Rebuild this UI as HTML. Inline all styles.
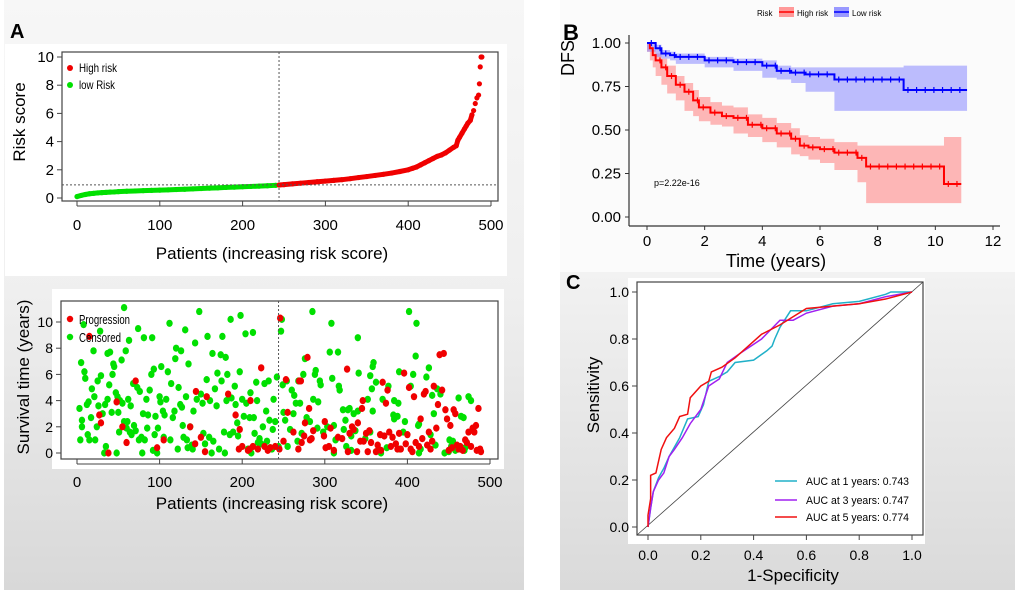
<!DOCTYPE html>
<html><head><meta charset="utf-8">
<style>
html,body{margin:0;padding:0;background:#fff;}
body{width:1020px;height:596px;overflow:hidden;font-family:"Liberation Sans",Arial,sans-serif;}
svg text{font-family:"Liberation Sans",Arial,sans-serif;}
</style></head>
<body>
<svg id="fig" width="1020" height="596" viewBox="0 0 1020 596" xmlns="http://www.w3.org/2000/svg">
<defs>
<linearGradient id="gA" x1="0" y1="0" x2="0" y2="1"><stop offset="0" stop-color="#f7f7f7"/><stop offset="0.5" stop-color="#efefef"/><stop offset="1" stop-color="#d8d8d8"/></linearGradient>
<linearGradient id="gC" x1="0" y1="0" x2="0" y2="1"><stop offset="0" stop-color="#f2f2f2"/><stop offset="1" stop-color="#dadada"/></linearGradient>
</defs>
<rect x="4" y="0" width="520" height="590" fill="url(#gA)"/>
<rect x="560" y="270" width="455" height="320" fill="url(#gC)"/>
<rect x="560" y="0" width="455" height="272" fill="#fbfbfb"/>
<rect x="5" y="44" width="502" height="232" fill="#fff"/>
<rect x="52" y="289" width="452" height="180" fill="#fff"/>
<rect x="628" y="278" width="297" height="266" fill="#fff"/>

<text x="10" y="38" font-size="20" font-weight="bold">A</text>
<text x="563" y="40" font-size="22" font-weight="bold">B</text>
<text x="566" y="289" font-size="20" font-weight="bold">C</text>
<g id="g1"></g><g id="g2"></g><g id="g3"></g><g id="g4"></g>
</svg>
<script>
// ---- Panel A top: risk score ----
const riskPatients=[0,5,10,15,20,25,30,35,40,45,50,60,70,80,90,100,110,120,130,140,150,160,170,180,190,200,210,220,230,240,244,250,260,270,280,290,300,310,320,330,340,350,360,370,380,390,400,405,410,415,420,425,430,435,440,445,450,455,458,460,462,465,468,470,472,475,477,479,481,483,485,486,487,488,489];
const riskScores=[0.1,0.18,0.25,0.3,0.33,0.36,0.38,0.4,0.42,0.43,0.45,0.48,0.5,0.52,0.54,0.56,0.58,0.6,0.62,0.65,0.67,0.7,0.72,0.75,0.77,0.8,0.82,0.84,0.87,0.9,0.92,0.95,1.0,1.05,1.1,1.15,1.2,1.25,1.3,1.37,1.45,1.52,1.6,1.68,1.77,1.88,2.0,2.1,2.2,2.35,2.5,2.65,2.8,2.95,3.05,3.2,3.4,3.6,3.7,4.1,4.3,4.6,4.9,5.1,5.3,5.5,5.9,6.2,6.7,7.1,7.3,8.1,9.3,10,10];
const riskXTicks=[0,100,200,300,400,500];
const riskYTicks=[0,2,4,6,8,10];
const riskCutoff=244, riskCutScore=0.93;
// ---- Panel A bottom: survival scatter ----
const censoredPts=[[3,3.4],[4,1],[5,6.9],[6,2],[6,2.5],[8,9.8],[9,6.2],[10,5.7],[12,3.7],[13,1.4],[14,3.9],[15,1],[17,2.7],[18,4.9],[20,7.8],[21,4.3],[22,1],[24,2],[25,5.5],[26,3.6],[28,9.3],[29,5.9],[31,3],[33,0],[34,3.7],[35,0.5],[37,7.6],[37,4.1],[39,5.2],[40,7.7],[42,3.1],[43,6],[44,6.8],[45,6.6],[47,4.6],[48,0],[49,4.3],[50,3.1],[51,1.6],[52,4],[54,7.1],[55,3.8],[57,2.4],[57,11.1],[59,7.8],[60,1.9],[61,2.4],[62,4.1],[63,8.6],[64,1.6],[65,3.6],[66,1.4],[68,5.3],[69,2.1],[71,1.7],[73,5],[74,9.5],[75,1],[76,4.7],[78,1.2],[79,0],[80,3],[81,8.8],[82,1],[84,4.1],[85,1.9],[86,2.9],[88,4.8],[90,6],[91,8.8],[92,0.2],[93,6.4],[94,1.4],[95,2.8],[97,0],[98,1.9],[100,4.3],[101,3.9],[102,6.6],[104,3.2],[105,1.2],[106,2.9],[108,4.1],[110,6.2],[112,9.9],[113,1],[114,5.3],[116,2.7],[118,3.2],[119,7.2],[120,8],[122,0.3],[123,5],[125,3.7],[126,7.8],[127,3.5],[128,2.1],[129,1.2],[131,9.4],[132,4.3],[133,1],[134,0.4],[135,6.8],[137,2],[139,0.6],[140,0.3],[141,3.2],[143,8.4],[145,4.1],[148,10.8],[150,4.5],[152,3.8],[153,1.5],[155,0.7],[157,5.6],[158,8.9],[160,1.2],[161,4],[163,0],[164,7.6],[165,0.9],[167,4.9],[169,3.6],[170,6.1],[172,0.3],[174,7.5],[175,5.5],[176,8.9],[178,1.6],[179,0],[180,7.3],[181,4],[182,6],[185,1.4],[186,10.2],[187,4.2],[189,1.6],[191,5.1],[192,3.7],[194,2.3],[195,1.3],[197,6.2],[198,10.5],[200,4.1],[202,2.8],[204,9.1],[205,3.8],[207,0.3],[209,2.7],[210,4.6],[211,0],[213,9.2],[214,2.7],[215,1.5],[217,5.4],[218,4],[219,0.8],[221,1.1],[223,0.7],[225,2],[227,5.3],[229,3.2],[230,0.9],[232,5.5],[233,2.5],[234,0.4],[236,0.3],[237,1.8],[238,4.1],[240,2.4],[242,5.8],[244,0.5],[248,10.2],[247,9.3],[249,5.2],[250,3.1],[252,2.5],[254,5.5],[255,0.5],[258,1.8],[260,4.8],[262,3],[263,4.4],[265,3.8],[267,0.9],[268,5.5],[270,3.8],[272,1.5],[274,6],[276,7.2],[278,2.7],[285,10.8],[282,2.4],[288,6],[286,4.1],[289,6.3],[291,1.9],[295,5.2],[292,3.9],[294,5.5],[311,0],[298,1.6],[308,9.9],[309,5.7],[303,2],[306,7.7],[313,1],[317,5.1],[311,2.1],[318,4.8],[322,3.3],[316,7.7],[325,2.5],[328,3.3],[326,0.5],[323,1.8],[340,8.8],[341,6.1],[335,3],[330,3.4],[332,1.3],[332,0.2],[337,1.7],[355,5.9],[340,3.2],[358,6.6],[359,6.9],[357,4.9],[362,5.4],[349,1.1],[365,0.3],[352,4.1],[355,1.6],[358,3.2],[368,0],[377,5.1],[370,4.1],[384,2.6],[388,2.8],[375,0.4],[383,2.9],[384,4],[389,3.8],[391,0.3],[390,6.2],[397,2.4],[395,1.6],[402,10.8],[404,5.1],[407,6],[411,9.9],[410,7.4],[413,2.1],[414,0],[414,2.2],[416,0.3],[423,5.8],[426,6.5],[428,1.4],[430,4.4],[432,3],[436,4.9],[434,0.6],[440,4.5],[445,0],[451,1],[453,0.5],[455,0.9],[458,0.2],[462,4.2],[465,2.8],[468,2.7],[470,0.4],[474,4.3],[477,4],[465,0.3],[450,0.1],[469,0.2]];
const progressionPts=[[27,2.9],[29,2.3],[15,8.9],[38,0],[48,3.9],[55,2],[60,0.8],[71,5.5],[105,1],[97,0.4],[137,2],[144,4.7],[143,0.7],[150,1.2],[155,0.1],[157,4.3],[183,4.5],[192,2.9],[196,0.3],[197,1.8],[200,0.5],[207,0.2],[209,0.3],[210,4],[213,0.5],[219,0.3],[223,6.5],[227,0.5],[231,0.2],[234,0.4],[240,0.5],[245,0.3],[246,10.3],[250,0.9],[253,5.6],[255,3.1],[262,1.6],[268,0.3],[269,5.5],[271,5.5],[272,0.8],[275,1.3],[276,2.3],[279,7.3],[281,3.4],[282,1],[284,1.1],[286,1.7],[299,1.3],[300,2.4],[301,0.4],[305,0.5],[307,1.9],[311,0.2],[316,1.2],[321,1.1],[327,6.4],[328,0.1],[330,1.5],[333,2],[335,1.8],[339,0.1],[340,2.3],[343,0.9],[345,3.4],[346,4],[347,0.9],[350,1.5],[352,0.1],[354,1.7],[356,0.8],[362,0.1],[364,0.6],[367,1.4],[368,0.2],[370,5.4],[372,1.3],[374,3.8],[376,4.8],[378,1.6],[380,0.5],[382,1.2],[386,0.7],[388,0.3],[390,1.5],[392,0.3],[396,6.1],[398,0.7],[400,1.4],[402,5],[404,0.3],[406,0.1],[408,4.3],[410,0.8],[414,0.5],[416,2.6],[418,1.1],[420,4.5],[422,4.7],[424,0.6],[426,1.6],[428,0.3],[430,0.9],[432,5.1],[435,1.9],[437,3.7],[439,7.5],[442,4.8],[444,7.6],[446,3.3],[448,2.6],[450,0.2],[452,2.1],[454,0.4],[456,3.3],[458,3],[460,0.6],[462,0.3],[464,0.5],[467,0.2],[470,1],[472,0.8],[474,1.6],[477,0.5],[479,1.9],[481,1.6],[483,2.1],[484,0.2],[486,3.4],[488,0.3],[489,0.1]];
const survYTicks=[0,2,4,6,8,10];
// ---- Panel B: KM ----
const kmHighT=[0,0.1,0.2,0.3,0.5,0.7,1,1.3,1.6,1.8,2.2,2.6,3,3.5,4,4.5,5,5.3,5.6,6,6.5,7.3,7.6,10.3,10.9];
const kmHighS=[1,0.97,0.93,0.9,0.86,0.81,0.76,0.72,0.67,0.63,0.6,0.58,0.57,0.53,0.51,0.48,0.45,0.41,0.4,0.39,0.37,0.34,0.29,0.19,0.19];
const kmHighLo=[1,0.95,0.9,0.86,0.81,0.76,0.71,0.67,0.61,0.58,0.55,0.53,0.52,0.48,0.46,0.43,0.4,0.36,0.35,0.33,0.31,0.27,0.2,0.08,0.08];
const kmHighHi=[1,0.99,0.96,0.94,0.91,0.87,0.81,0.77,0.73,0.69,0.66,0.64,0.63,0.59,0.57,0.54,0.51,0.47,0.46,0.45,0.43,0.41,0.41,0.46,0.46];
const kmLowT=[0,0.3,0.5,0.8,1,2,3,4,4.5,5,5.5,6.5,8.9,11.1];
const kmLowS=[1,0.97,0.94,0.93,0.92,0.9,0.89,0.87,0.84,0.83,0.82,0.79,0.73,0.73];
const kmLowLo=[1,0.95,0.92,0.91,0.9,0.88,0.86,0.84,0.8,0.79,0.77,0.72,0.61,0.61];
const kmLowHi=[1,0.99,0.96,0.95,0.94,0.92,0.91,0.9,0.87,0.86,0.86,0.86,0.87,0.87];
const kmXTicks=[0,2,4,6,8,10,12];
const kmYTicks=[0,0.25,0.5,0.75,1];
const kmYLabels=["0.00","0.25","0.50","0.75","1.00"];
// ---- Panel C: ROC ----
const roc1F=[0,0.01,0.02,0.04,0.06,0.08,0.1,0.12,0.15,0.19,0.21,0.23,0.27,0.3,0.33,0.4,0.45,0.47,0.48,0.5,0.54,0.6,0.7,0.8,0.9,0.92,1];
const roc1T=[0,0.08,0.15,0.21,0.25,0.3,0.34,0.38,0.46,0.47,0.52,0.62,0.64,0.66,0.7,0.71,0.75,0.77,0.8,0.85,0.92,0.92,0.95,0.96,0.99,1,1];
const roc3F=[0,0.01,0.02,0.04,0.06,0.08,0.1,0.13,0.16,0.2,0.23,0.27,0.3,0.35,0.43,0.5,0.55,0.6,0.7,0.8,0.9,1];
const roc3T=[0,0.08,0.15,0.2,0.23,0.3,0.33,0.38,0.44,0.5,0.6,0.63,0.7,0.74,0.8,0.88,0.88,0.91,0.94,0.95,0.98,1];
const roc5F=[0,0,0.01,0.01,0.03,0.05,0.07,0.1,0.12,0.15,0.16,0.2,0.23,0.24,0.28,0.33,0.38,0.43,0.5,0.6,0.7,0.8,0.9,1];
const roc5T=[0,0.05,0.12,0.22,0.23,0.33,0.38,0.42,0.47,0.48,0.55,0.6,0.62,0.66,0.68,0.72,0.77,0.82,0.86,0.93,0.94,0.95,0.97,1];
const rocTicks=[0,0.2,0.4,0.6,0.8,1];
const rocLabels=["AUC at 1 years: 0.743","AUC at 3 years: 0.747","AUC at 5 years: 0.774"];

const NS="http://www.w3.org/2000/svg";
function mk(parent,tag,attrs,txt){const e=document.createElementNS(NS,tag);for(const k in attrs)e.setAttribute(k,attrs[k]);if(txt!==undefined)e.textContent=txt;parent.appendChild(e);return e;}
function lin(d0,d1,r0,r1){return v=>r0+(v-d0)*(r1-r0)/(d1-d0);}

// Panel A top
(function(){
 const g=document.getElementById('g1');
 const x=lin(0,500,77,491), y=lin(0,10,198,57);
 const box=mk(g,'rect',{x:62,y:52,width:436,height:149,fill:'none',stroke:'#444','stroke-width':1.2});
 
 // continuous trace through the points (low & high segments)
 const lowIdx=[],highIdx=[];
 riskPatients.forEach((p,i)=>{(p<riskCutoff?lowIdx:highIdx).push(i);});
 [[lowIdx,'#00e000'],[highIdx,'#f00000']].forEach(s=>{
  const pts=s[0].filter(i=>riskScores[i]<6).map(i=>x(riskPatients[i])+','+y(riskScores[i])).join(' ');
  const pl=mk(g,'polyline',{points:pts,fill:'none',stroke:s[1],'stroke-width':5,'stroke-linecap':'round','stroke-linejoin':'round'});
  
 });
 riskPatients.forEach((p,i)=>{const c=mk(g,'circle',{cx:x(p),cy:y(riskScores[i]),r:2.6,fill:p<riskCutoff?'#00e000':'#f00000'});
  });
 const v=mk(g,'line',{x1:x(riskCutoff),x2:x(riskCutoff),y1:52,y2:201,stroke:'#555','stroke-dasharray':'2,2'});
 
 const h=mk(g,'line',{x1:62,x2:498,y1:y(riskCutScore),y2:y(riskCutScore),stroke:'#555','stroke-dasharray':'2,2'});
 
 riskXTicks.forEach(t=>{mk(g,'line',{x1:x(t),x2:x(t),y1:201,y2:206,stroke:'#444'});
  const tx=mk(g,'text',{x:x(t),y:230,'font-size':15,'text-anchor':'middle'},t);
  });
 mk(g,'line',{x1:x(0),x2:x(500),y1:206,y2:206,stroke:'#444'});
 riskYTicks.forEach(t=>{mk(g,'line',{x1:57,x2:62,y1:y(t),y2:y(t),stroke:'#444'});
  const tx=mk(g,'text',{x:54,y:y(t)+5,'font-size':15,'text-anchor':'end'},t);
  });
 const xl=mk(g,'text',{x:272,y:259,'font-size':17,'text-anchor':'middle'},'Patients (increasing risk score)');
 
 const yl=mk(g,'text',{x:0,y:0,'font-size':17,'text-anchor':'middle',transform:'translate(25,122) rotate(-90)'},'Risk score');
 
 const l1=mk(g,'circle',{cx:70,cy:68,r:3,fill:'#f00000'});
 const t1=mk(g,'text',{x:79,y:72,'font-size':12,'textLength':38,'lengthAdjust':'spacingAndGlyphs'},'High risk');
 const l2=mk(g,'circle',{cx:70,cy:85,r:3,fill:'#00e000'});
 const t2=mk(g,'text',{x:79,y:89,'font-size':12,'textLength':36,'lengthAdjust':'spacingAndGlyphs'},'low Risk');
})();

// Panel A bottom
(function(){
 const g=document.getElementById('g2');
 const x=lin(0,500,77,490), y=lin(0,10,453,322);
 const box=mk(g,'rect',{x:61,y:301,width:437,height:158,fill:'none',stroke:'#444','stroke-width':1.2});
 
 censoredPts.forEach(p=>{const c=mk(g,'ellipse',{cx:x(p[0]),cy:y(p[1]),rx:3.2,ry:3.6,fill:'#00e000'});});
 progressionPts.forEach(p=>{const c=mk(g,'ellipse',{cx:x(p[0]),cy:y(p[1]),rx:3.2,ry:3.6,fill:'#f00000'});});
 const v=mk(g,'line',{x1:x(riskCutoff),x2:x(riskCutoff),y1:301,y2:459,stroke:'#555','stroke-dasharray':'2,2'});
 
 riskXTicks.forEach(t=>{mk(g,'line',{x1:x(t),x2:x(t),y1:459,y2:464,stroke:'#444'});
  const tx=mk(g,'text',{x:x(t),y:487,'font-size':15,'text-anchor':'middle'},t);
  });
 mk(g,'line',{x1:x(0),x2:x(500),y1:464,y2:464,stroke:'#444'});
 survYTicks.forEach(t=>{mk(g,'line',{x1:56,x2:61,y1:y(t),y2:y(t),stroke:'#444'});
  const tx=mk(g,'text',{x:53,y:y(t)+5,'font-size':14,'text-anchor':'end'},t);
  });
 const xl=mk(g,'text',{x:272,y:509,'font-size':17,'text-anchor':'middle'},'Patients (increasing risk score)');
 
 const yl=mk(g,'text',{x:0,y:0,'font-size':17,'text-anchor':'middle',transform:'translate(29,377) rotate(-90)'},'Survival time (years)');
 
 const l1=mk(g,'circle',{cx:70,cy:319,r:3.2,fill:'#f00000'});
 const t1=mk(g,'text',{x:79,y:324,'font-size':13,'textLength':51,'lengthAdjust':'spacingAndGlyphs'},'Progression');
 const l2=mk(g,'circle',{cx:70,cy:337,r:3.2,fill:'#00e000'});
 const t2=mk(g,'text',{x:79,y:342,'font-size':13,'textLength':42,'lengthAdjust':'spacingAndGlyphs'},'Censored');
})();

// Panel B
(function(){
 const g=document.getElementById('g3');
 const x=lin(0,12,647,993), y=lin(0,1,217,43);
 function stepPath(T,S){let d='M'+x(T[0])+','+y(S[0]);for(let i=1;i<T.length;i++){d+='H'+x(T[i])+'V'+y(S[i]);}return d;}
 function band(T,L,H){let d='M'+x(T[0])+','+y(H[0]);for(let i=1;i<T.length;i++)d+='H'+x(T[i])+'V'+y(H[i]);for(let i=T.length-1;i>0;i--)d+='V'+y(L[i])+'H'+x(T[i-1]);d+='V'+y(L[0])+'Z';return d;}
 const bh=mk(g,'path',{d:band(kmHighT,kmHighLo,kmHighHi),fill:'#f88',opacity:0.6});
 const bl=mk(g,'path',{d:band(kmLowT,kmLowLo,kmLowHi),fill:'#88f',opacity:0.55});
 const ph=mk(g,'path',{d:stepPath(kmHighT,kmHighS),fill:'none',stroke:'#f00',"stroke-width":2});
 const pl=mk(g,'path',{d:stepPath(kmLowT,kmLowS),fill:'none',stroke:'#00f',"stroke-width":2});
 [[kmHighT,kmHighS,'#f00'],[kmLowT,kmLowS,'#00f']].forEach(s=>{for(let i=0;i<s[0].length-1;i++){const a=s[0][i],b=s[0][i+1];for(let t=a+0.15;t<b;t+=0.3){const c=mk(g,'line',{x1:x(t),x2:x(t),y1:y(s[1][i])-3,y2:y(s[1][i])+3,stroke:s[2],'stroke-width':1.2});}}});
 mk(g,'line',{x1:629,x2:629,y1:35,y2:226,stroke:'#333','stroke-width':1.2});
 mk(g,'line',{x1:629,x2:1000,y1:226,y2:226,stroke:'#333','stroke-width':1.2});
 kmXTicks.forEach(t=>{mk(g,'line',{x1:x(t),x2:x(t),y1:226,y2:230,stroke:'#333'});
  const tx=mk(g,'text',{x:x(t),y:246,'font-size':15,'text-anchor':'middle'},t);
  });
 kmYTicks.forEach((t,i)=>{mk(g,'line',{x1:625,x2:629,y1:y(t),y2:y(t),stroke:'#333'});
  const tx=mk(g,'text',{x:621,y:y(t)+5,'font-size':15,'text-anchor':'end'},kmYLabels[i]);
  });
 const xl=mk(g,'text',{x:776,y:267,'font-size':18,'text-anchor':'middle'},'Time (years)');
 const yl=mk(g,'text',{x:0,y:0,'font-size':18,'text-anchor':'middle',transform:'translate(574,58) rotate(-90)'},'DFS');
 const pv=mk(g,'text',{x:654,y:186,'font-size':9},'p=2.22e-16');
 const lt=mk(g,'text',{x:757,y:16,'font-size':8},'Risk');
 const r1=mk(g,'rect',{x:779,y:7,width:15,height:10,fill:'#f99'});
 mk(g,'line',{x1:779,x2:794,y1:12,y2:12,stroke:'#f00','stroke-width':1.5});
 const t1=mk(g,'text',{x:797,y:16,'font-size':8},'High risk');
 const r2=mk(g,'rect',{x:834,y:7,width:15,height:10,fill:'#99f'});
 mk(g,'line',{x1:834,x2:849,y1:12,y2:12,stroke:'#00f','stroke-width':1.5});
 const t2=mk(g,'text',{x:852,y:16,'font-size':8},'Low risk');
})();

// Panel C
(function(){
 const g=document.getElementById('g4');
 const x=lin(0,1,648,912), y=lin(0,1,527,292);
 const box=mk(g,'rect',{x:637,y:282,width:286,height:253,fill:'none',stroke:'#444','stroke-width':1.2});
 
 const dg=mk(g,'line',{x1:637,y1:535,x2:923,y2:282,stroke:'#444','stroke-width':0.8});
 function poly(F,T){return F.map((f,i)=>x(f)+','+y(T[i])).join(' ');}
 const c1=mk(g,'polyline',{points:poly(roc1F,roc1T),fill:'none',stroke:'#20b0c8','stroke-width':1.5});
 const c3=mk(g,'polyline',{points:poly(roc3F,roc3T),fill:'none',stroke:'#a020f0','stroke-width':1.5});
 const c5=mk(g,'polyline',{points:poly(roc5F,roc5T),fill:'none',stroke:'#f01010','stroke-width':1.5});
 rocTicks.forEach(t=>{mk(g,'line',{x1:x(t),x2:x(t),y1:535,y2:540,stroke:'#444'});
  const tx=mk(g,'text',{x:x(t),y:560,'font-size':14,'text-anchor':'middle'},t.toFixed(1));
  mk(g,'line',{x1:632,x2:637,y1:y(t),y2:y(t),stroke:'#444'});
  const ty=mk(g,'text',{x:629,y:y(t)+5,'font-size':14,'text-anchor':'end'},t.toFixed(1));});
 const xl=mk(g,'text',{x:793,y:581,'font-size':17,'text-anchor':'middle'},'1-Specificity');
 const yl=mk(g,'text',{x:0,y:0,'font-size':17,'text-anchor':'middle',transform:'translate(599,395) rotate(-90)'},'Sensitivity');
 const cols=['#20b0c8','#a020f0','#f01010'];const ly=[481,500,517];
 rocLabels.forEach((l,i)=>{const ln=mk(g,'line',{x1:775,x2:797,y1:ly[i],y2:ly[i],stroke:cols[i],'stroke-width':1.5});
  const t=mk(g,'text',{x:806,y:ly[i]+4,'font-size':11,'textLength':103,'lengthAdjust':'spacingAndGlyphs'},l);});
})();
</script>
</body></html>
